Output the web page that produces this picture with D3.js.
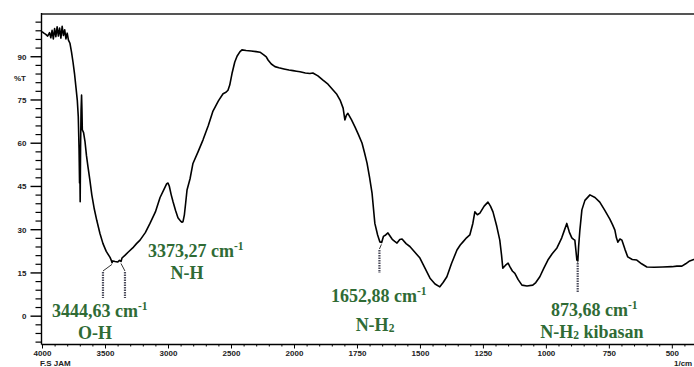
<!DOCTYPE html>
<html>
<head>
<meta charset="utf-8">
<script src="https://cdn.jsdelivr.net/npm/d3@7"></script>
<style>
  body { margin: 0; background: #fff; }
  svg { display: block; }
  .tick-label { font-family: "Liberation Sans", Arial, sans-serif; font-size: 8px; font-weight: bold; fill: #222; }
  .annot { font-family: "Liberation Serif", "Times New Roman", serif; font-weight: bold; fill: #2f6b35; }
</style>
</head>
<body>
<div id="chart"></div>
<script>
// spectrum (cm-1, %T)
const wavenumber = [
  4000, 3985, 3970, 3955, 3940, 3930, 3920, 3910, 3900, 3890, 3880, 3870, 3860, 3850, 3840, 3830,
  3820, 3810, 3800, 3790, 3778, 3766, 3754, 3742, 3730, 3720, 3712, 3706, 3702, 3700, 3697, 3694,
  3690, 3686, 3683, 3680, 3670, 3659, 3647, 3635, 3620, 3605, 3585, 3565, 3540, 3516, 3490, 3460,
  3450, 3444, 3438, 3420, 3400, 3385, 3373, 3365, 3340, 3317, 3280, 3250, 3222, 3180, 3143, 3100,
  3063, 3030, 3010, 3000, 2990, 2975, 2960, 2940, 2921, 2900, 2890, 2881, 2870, 2860, 2849, 2825,
  2802, 2760, 2722, 2680, 2643, 2600, 2563, 2540, 2524, 2510, 2492, 2470, 2452, 2430, 2413, 2380,
  2340, 2300, 2270, 2240, 2220, 2206, 2180, 2151, 2120, 2080, 2040, 2008, 1990, 1976, 1955, 1937,
  1925, 1905, 1885, 1865, 1845, 1830, 1817, 1805, 1798, 1792, 1786, 1772, 1758, 1745, 1730, 1720,
  1710, 1700, 1690, 1679, 1668, 1659, 1652, 1645, 1636, 1627, 1610, 1600, 1591, 1580, 1571, 1555,
  1540, 1520, 1500, 1480, 1460, 1440, 1421, 1408, 1393, 1375, 1353, 1340, 1329, 1315, 1302, 1290,
  1282, 1272, 1262, 1245, 1230, 1220, 1210, 1195, 1183, 1176, 1171, 1160, 1150, 1143, 1133, 1123,
  1110, 1095, 1075, 1052, 1040, 1024, 1008, 992, 975, 956, 945, 937, 927, 917, 907, 897,
  890, 885, 880, 877, 873, 870, 865, 857, 845, 825, 805, 786, 766, 746, 735, 726,
  720, 714, 706, 698, 686, 675, 657, 639, 620, 599, 570, 536, 500, 480, 460, 445,
  429, 413, 400
];
const transmittance = [
  98.5, 98.0, 97.6, 97.0, 98.2, 96.4, 99.0, 96.0, 99.6, 96.8, 100.2, 97.0, 99.8, 96.3, 100.4, 97.2,
  99.2, 96.0, 98.0, 95.6, 94.5, 91.5, 88.0, 84.0, 79.0, 74.8, 69.0, 58.0, 46.0, 53.0, 39.5, 58.0,
  71.0, 76.5, 71.5, 64.5, 63.5, 60.5, 55.5, 51.6, 47.0, 42.0, 37.0, 33.0, 28.5, 25.0, 22.3, 20.2,
  19.2, 18.4, 19.0, 18.8, 18.6, 19.2, 18.8, 20.0, 21.0, 22.0, 23.5, 25.0, 26.2, 28.8, 32.0, 36.0,
  41.0, 44.0, 45.8, 46.0, 45.0, 42.0, 39.5, 36.5, 34.0, 32.8, 32.4, 32.6, 35.0, 39.0, 43.6, 47.5,
  52.8, 57.0, 61.0, 66.0, 71.0, 74.5, 77.0, 77.5, 78.2, 80.0, 84.0, 88.0, 90.0, 91.5, 92.2, 92.0,
  91.8, 91.6, 91.4, 90.5, 89.8, 88.7, 87.3, 86.4, 86.0, 85.6, 85.2, 85.0, 84.8, 84.6, 84.2, 84.0,
  84.2, 83.2, 81.7, 80.3, 78.3, 76.8, 74.8, 72.0, 67.9, 69.5, 70.2, 68.0, 65.5, 63.0, 59.9, 56.5,
  52.9, 48.0, 42.4, 32.0, 28.0, 25.6, 25.4, 27.5, 28.0, 28.7, 26.5, 25.8, 25.2, 26.4, 26.6, 25.0,
  24.0, 22.0, 20.0, 16.5, 13.0, 11.0, 10.0, 11.5, 13.5, 18.0, 22.8, 24.5, 25.6, 27.0, 28.0, 32.0,
  36.0, 35.0, 35.6, 38.0, 39.4, 38.0, 36.0, 31.0, 26.2, 21.0, 16.5, 17.5, 18.2, 17.0, 15.5, 14.7,
  12.5, 10.6, 10.3, 10.6, 11.5, 13.5, 16.5, 19.3, 21.5, 23.5, 25.5, 27.0, 29.5, 32.0, 29.0, 27.0,
  26.5, 26.2, 22.0, 19.3, 19.0, 24.0, 29.7, 36.7, 40.0, 41.9, 41.0, 39.4, 36.5, 33.5, 31.5, 29.7,
  27.0, 25.5, 26.6, 26.2, 23.0, 20.4, 19.5, 19.3, 18.0, 16.9, 16.8, 16.9, 17.0, 17.2, 17.2, 18.0,
  19.0, 19.5, 20.0
];

// axes
const xMajorTicks = [4000, 3500, 3000, 2500, 2000, 1750, 1500, 1250, 1000, 750, 500];
const yMajorTicks = [0, 15, 30, 45, 60, 75, 90];

// labelled peaks
const peakWavenumbers = [3444.63, 3373.27, 1652.88, 873.68];
const peakValues = ["3444,63", "3373,27", "1652,88", "873,68"];
const peakGroups = ["O-H", "N-H", "N-H2", "N-H2 kibasan"];

const width = 694, height = 367;
const svg = d3.select("#chart").append("svg")
    .attr("width", width)
    .attr("height", height);

svg.append("rect").attr("width", width).attr("height", height).attr("fill", "#fff");

// wavenumber axis is expanded 2x below 2000 cm-1
const x = d3.scaleLinear().domain([4000, 2000, 400]).range([42, 294, 697]);
const y = d3.scaleLinear().domain([-10, 105]).range([344.5, 13]);

const plotLeft = 41.5, plotBottom = 344.5, plotTop = 13;

// frame top
svg.append("line")
    .attr("x1", plotLeft).attr("x2", width)
    .attr("y1", 14).attr("y2", 14)
    .attr("stroke", "#555").attr("stroke-width", 2);

// y axis
const yMinor = d3.range(-9, 105, 3).filter(v => v % 15 !== 0);
const yAxis = svg.append("g").attr("transform", `translate(${plotLeft},0)`);
yAxis.call(d3.axisLeft(y).tickValues(yMinor).tickSize(6).tickFormat(""));
yAxis.call(g => g.select(".domain").remove());
const yMaj = svg.append("g").attr("transform", `translate(${plotLeft},0)`)
    .call(d3.axisLeft(y).tickValues(yMajorTicks).tickSize(11).tickFormat(d3.format("d")));
yMaj.select(".domain").attr("d", `M0,${plotTop}V${plotBottom}`).attr("stroke-width", 1.4);
yMaj.selectAll(".tick text").attr("class", "tick-label").attr("x", -15).attr("dy", "0.35em");
yAxis.selectAll("line").attr("stroke-width", 1.2);
yMaj.selectAll("line").attr("stroke-width", 1.4);

svg.append("text").attr("class", "tick-label")
    .attr("x", 26).attr("y", y(82.5)).attr("dy", "0.35em")
    .attr("text-anchor", "end").attr("font-size", 7).text("%T");

// x axis
const xMinor = d3.range(3900, 2000, -100).concat(d3.range(1950, 400, -50))
    .filter(v => !xMajorTicks.includes(v));
const xAxis = svg.append("g").attr("transform", `translate(0,${plotBottom})`);
xAxis.call(d3.axisBottom(x).tickValues(xMinor).tickSize(2).tickFormat(""));
xAxis.select(".domain").remove();
const xMaj = svg.append("g").attr("transform", `translate(0,${plotBottom})`)
    .call(d3.axisBottom(x).tickValues(xMajorTicks).tickSize(4).tickFormat(d3.format("d")));
xMaj.select(".domain").attr("d", `M${plotLeft},0H${width}`).attr("stroke-width", 1.4);
xMaj.selectAll(".tick text").attr("class", "tick-label").attr("y", 6).attr("dy", "0.71em");

svg.append("text").attr("class", "tick-label").attr("font-size", 6.5)
    .attr("x", 40).attr("y", 366).text("F.S JAM");
svg.append("text").attr("class", "tick-label").attr("font-size", 6.5)
    .attr("x", 674).attr("y", 366).text("1/cm");

// spectrum
const pts = wavenumber.map((w, i) => [w, transmittance[i]]);
svg.append("path")
    .datum(pts)
    .attr("fill", "none")
    .attr("stroke", "#000")
    .attr("stroke-width", 1.6)
    .attr("stroke-linejoin", "round")
    .attr("d", d3.line().x(d => x(d[0])).y(d => y(d[1])));

// peak markers: leader from curve, then dotted label stub
const markerLayout = [
  {dx: -9, top: 272, bottom: 298},
  {dx: 4, top: 272, bottom: 298},
  {dx: -2, top: 250, bottom: 273},
  {dx: 0, top: 263, bottom: 293}
];
const interpT = w => {
  const i = d3.bisector(d => -d[0]).left(pts, -w);
  const a = pts[Math.max(0, i - 1)], b = pts[Math.min(pts.length - 1, i)];
  if (a[0] === b[0]) return a[1];
  return a[1] + (b[1] - a[1]) * (w - a[0]) / (b[0] - a[0]);
};
peakWavenumbers.forEach((w, i) => {
  const m = markerLayout[i];
  const px = x(w), py = y(interpT(w));
  svg.append("path")
      .attr("d", `M${px},${py + 2}L${px + m.dx},${m.top - 1}`)
      .attr("stroke", "#333").attr("stroke-width", 1).attr("fill", "none");
  svg.append("line")
      .attr("x1", px + m.dx).attr("x2", px + m.dx)
      .attr("y1", m.top).attr("y2", m.bottom)
      .attr("stroke", "#4a4a5a").attr("stroke-width", 2.2)
      .attr("stroke-dasharray", "1.5,1");
});

// annotation text
const labelLayout = [
  {vx: 52, vy: 317, gx: 95, gy: 339},
  {vx: 148, vy: 257, gx: 187, gy: 279},
  {vx: 331, vy: 302, gx: 375, gy: 331},
  {vx: 551, vy: 316, gx: 592, gy: 338}
];
const fs = 18;
peakValues.forEach((v, i) => {
  const L = labelLayout[i];
  const t = svg.append("text").attr("class", "annot")
      .attr("x", L.vx).attr("y", L.vy).attr("font-size", fs);
  t.append("tspan").text(v + " cm");
  t.append("tspan").attr("font-size", 11.5).attr("dy", -7.5).text("-1");

  const g = svg.append("text").attr("class", "annot")
      .attr("x", L.gx).attr("y", L.gy).attr("font-size", fs)
      .attr("text-anchor", "middle");
  const name = peakGroups[i];
  const k = name.indexOf("H2");
  if (k < 0) {
    g.text(name);
  } else {
    g.append("tspan").text(name.slice(0, k + 1));
    g.append("tspan").attr("font-size", 11.5).attr("dy", 1).text("2");
    if (name.length > k + 2) {
      g.append("tspan").attr("dy", -1).text(name.slice(k + 2));
    }
  }
});
</script>
</body>
</html>
